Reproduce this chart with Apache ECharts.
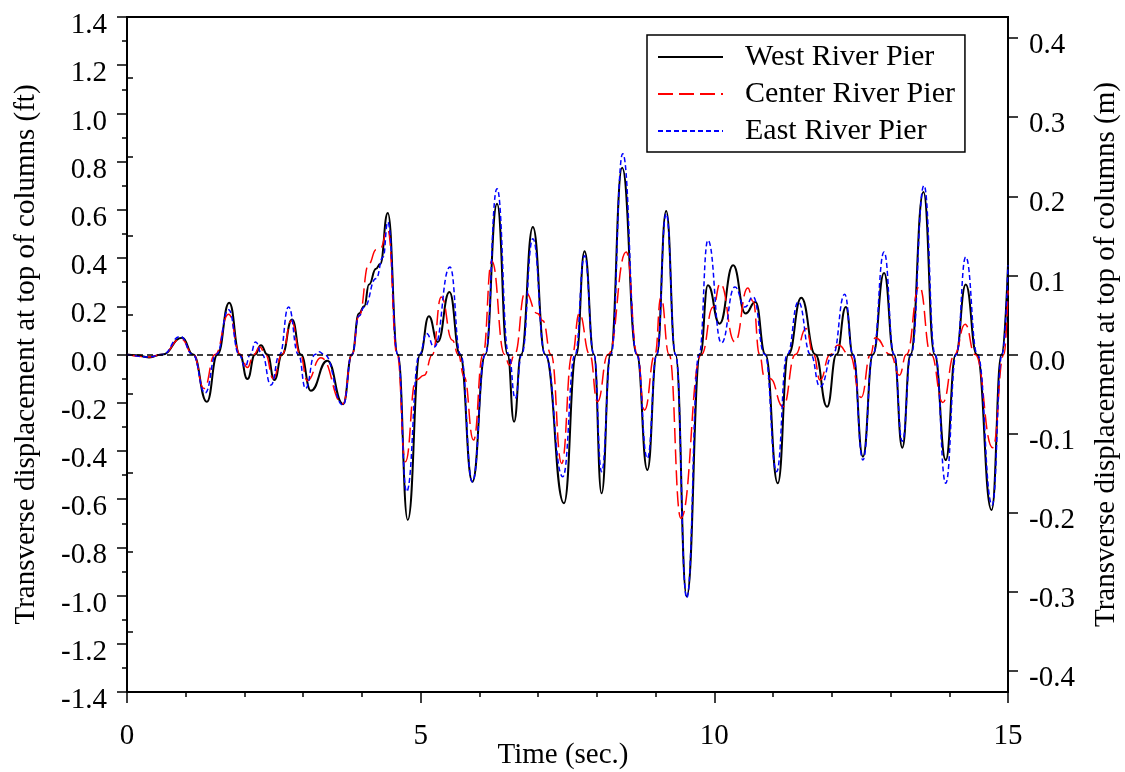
<!DOCTYPE html>
<html><head><meta charset="utf-8">
<script src="https://cdn.jsdelivr.net/npm/echarts@6/dist/echarts.min.js"></script>
<style>html,body{margin:0;padding:0;background:#fff}#c{width:1125px;height:772px}</style>
</head><body><div id="c"></div>
<script>
// Time (sec.) and displacement (ft)
const westT = [0,0.15,0.375,0.6,0.94,1.125,1.36,1.54,1.74,1.92,2.05,2.18,2.28,2.39,2.51,2.64,2.81,2.96,3.13,3.41,3.68,3.83,3.95,4.04,4.12,4.24,4.31,4.44,4.61,4.78,4.99,5.14,5.29,5.49,5.67,5.88,6.10,6.30,6.48,6.59,6.71,6.91,7.12,7.44,7.65,7.79,7.95,8.08,8.23,8.43,8.68,8.86,9.02,9.18,9.34,9.53,9.76,9.89,10.09,10.32,10.53,10.70,10.87,11.08,11.26,11.48,11.72,11.92,12.08,12.24,12.36,12.53,12.70,12.89,13.06,13.20,13.34,13.56,13.75,13.94,14.11,14.28,14.47,14.72,14.89,15.0];
const westV = [0,-0.003,-0.012,0,0.07,0,-0.196,0,0.215,0,-0.102,0,0.038,0,-0.106,0,0.145,0,-0.15,-0.026,-0.206,0,0.17,0.2,0.29,0.356,0.375,0.587,0,-0.686,0,0.159,0.052,0.259,0,-0.528,0,0.625,0,-0.279,0,0.529,0,-0.617,0,0.428,0,-0.576,0,0.775,0,-0.479,0,0.595,0,-1.004,0,0.287,0.128,0.37,0.17,0.218,0,-0.534,0,0.235,0,-0.217,0,0.197,0,-0.424,0,0.338,0,-0.387,0,0.674,0,-0.438,0,0.29,0,-0.645,0,0.37];

const centerT = [0,0.375,0.6,0.92,1.13,1.31,1.50,1.73,1.93,2.05,2.16,2.26,2.36,2.49,2.64,2.80,2.95,3.07,3.30,3.68,3.83,3.95,4.12,4.24,4.31,4.44,4.60,4.74,4.92,5.06,5.20,5.35,5.54,5.64,5.74,5.90,6.06,6.21,6.43,6.51,6.60,6.78,6.99,7.08,7.22,7.40,7.58,7.70,7.88,8.01,8.19,8.50,8.69,8.81,8.99,9.09,9.23,9.43,9.78,9.98,10.10,10.35,10.57,10.66,10.77,10.85,10.95,11.17,11.38,11.56,11.69,11.80,11.97,12.11,12.30,12.50,12.66,12.74,13.0,13.15,13.27,13.49,13.69,13.89,14.09,14.27,14.44,14.74,14.93,15.0];
const centerV = [0,-0.01,0,0.065,0,-0.141,0,0.167,0,-0.054,0,0.031,0,-0.10,0,0.14,0,-0.109,-0.013,-0.204,0,0.16,0.377,0.435,0.44,0.518,0,-0.445,-0.106,-0.086,0,0.239,0.059,0,-0.093,-0.355,0,0.388,0,-0.044,0,0.259,0.17,0.14,0,-0.452,0,0.17,0,-0.196,0,0.425,0,-0.231,0,0.239,0,-0.679,0,0.197,0.294,0.052,0.276,0.22,0,-0.09,-0.10,-0.217,0,0.108,0,-0.106,0,0.039,0,-0.178,0,0.07,0,-0.086,0,0.283,0,-0.199,0,0.126,0,-0.387,0,0.266];

const eastT = [0,0.375,0.6,0.91,1.12,1.33,1.52,1.73,1.91,2.01,2.10,2.19,2.30,2.45,2.60,2.75,2.92,3.04,3.20,3.27,3.36,3.68,3.83,3.95,4.04,4.24,4.36,4.44,4.61,4.76,4.98,5.10,5.23,5.50,5.68,5.88,6.10,6.30,6.50,6.61,6.72,6.91,7.12,7.42,7.63,7.79,7.95,8.08,8.24,8.44,8.68,8.86,9.02,9.18,9.34,9.53,9.74,9.89,10.12,10.35,10.52,10.66,10.86,11.06,11.24,11.43,11.64,11.80,12.02,12.22,12.36,12.53,12.70,12.89,13.06,13.20,13.35,13.57,13.76,13.94,14.12,14.28,14.48,14.73,14.90,15.0];
const eastV = [0,-0.01,0,0.075,0,-0.16,0,0.186,0,-0.051,0,0.052,0,-0.127,0,0.197,0,-0.141,0,0.011,0,-0.21,0,0.16,0.197,0.315,0.404,0.549,0,-0.569,0,0.087,0.031,0.363,0,-0.528,0,0.688,0,-0.182,0,0.48,0,-0.507,0,0.41,0,-0.486,0,0.833,0,-0.431,0,0.584,0,-1.01,0,0.474,0.048,0.28,0.197,0.239,0,-0.486,0,0.218,0,-0.134,0,0.25,0,-0.438,0,0.425,0,-0.36,0,0.701,0,-0.534,0,0.404,0,-0.624,0,0.37];

const seriesNames = ['West River Pier','Center River Pier','East River Pier'];
const xTicks = [0,5,10,15];
const rightMajorTicks = [-0.4,-0.3,-0.2,-0.1,0,0.1,0.2,0.3,0.4];
const rightMinorTicks = [-0.35,-0.25,-0.15,-0.05,0.05,0.15,0.25,0.35];
const FT_PER_M = 3.28084;

const FONT = "'Liberation Serif','Times New Roman',serif";
const FS = 29;
function pairs(t, v) { return t.map((x, i) => [x, v[i]]); }
function fmt1(v) { return Math.abs(v) < 1e-9 ? '0.0' : v.toFixed(1); }
const axisLine = { show: true, onZero: false, lineStyle: { color: '#000', width: 2 } };
const tickStyle = { color: '#000', width: 1.5 };
const labelStyle = { fontFamily: FONT, fontSize: FS, color: '#000' };

const chart = echarts.init(document.getElementById('c'));
chart.setOption({
  animation: false,
  backgroundColor: '#fff',
  grid: { left: 127, right: 117, top: 17, bottom: 80, show: true, borderColor: '#000', borderWidth: 2,
    backgroundColor: 'transparent', containLabel: false, outerBoundsMode: 'none' },
  legend: {
    data: seriesNames, orient: 'vertical', left: 647, top: 35,
    itemWidth: 65, itemHeight: 14, itemGap: 7, padding: [7, 10, 6, 10],
    borderColor: '#000', borderWidth: 1.5, backgroundColor: '#fff',
    itemStyle: { opacity: 0, borderWidth: 0 },
    textStyle: { fontFamily: FONT, fontSize: 30, color: '#000', lineHeight: 30, padding: [0, 0, 0, 17] }
  },
  xAxis: {
    type: 'value', min: 0, max: 15, interval: 5,
    axisLine: axisLine,
    axisTick: { show: true, length: 11, lineStyle: tickStyle, customValues: xTicks },
    minorTick: { show: true, splitNumber: 5, length: 5, lineStyle: tickStyle },
    splitLine: { show: false }, minorSplitLine: { show: false },
    axisLabel: Object.assign({ margin: 30, customValues: xTicks, formatter: v => String(v) }, labelStyle),
    name: 'Time (sec.)', nameLocation: 'middle', nameGap: 49, nameMoveOverlap: false,
    nameTextStyle: { fontFamily: FONT, fontSize: FS, color: '#000', padding: [0, 9, 0, 0] }
  },
  yAxis: [
    {
      type: 'value', min: -1.4, max: 1.4, interval: 0.2, position: 'left',
      axisLine: axisLine,
      axisTick: { show: true, length: 10, lineStyle: tickStyle },
      minorTick: { show: true, splitNumber: 2, length: 5, lineStyle: tickStyle },
      splitLine: { show: false }, minorSplitLine: { show: false },
      axisLabel: Object.assign({ margin: 20, formatter: fmt1, verticalAlign: 'top', lineHeight: 17 }, labelStyle),
      name: 'Transverse displacement at top of columns (ft)', nameLocation: 'middle', nameRotate: 90, nameGap: 86,
      nameMoveOverlap: false,
      nameTextStyle: { fontFamily: FONT, fontSize: FS, color: '#000' }
    },
    {
      type: 'value', min: -1.4 / FT_PER_M, max: 1.4 / FT_PER_M, position: 'right',
      axisLine: axisLine,
      axisTick: { show: true, length: 10, lineStyle: tickStyle, customValues: rightMajorTicks },
      splitLine: { show: false },
      axisLabel: Object.assign({ margin: 21, customValues: rightMajorTicks, formatter: fmt1, verticalAlign: 'top', lineHeight: 15 }, labelStyle),
      name: 'Transverse displacement at top of columns (m)', nameLocation: 'middle', nameRotate: 90, nameGap: 84,
      nameMoveOverlap: false,
      nameTextStyle: { fontFamily: FONT, fontSize: FS, color: '#000' }
    },
    {
      type: 'value', min: -1.4 / FT_PER_M, max: 1.4 / FT_PER_M, position: 'right',
      axisLine: { show: false },
      axisTick: { show: true, length: 6, lineStyle: tickStyle, customValues: rightMinorTicks },
      axisLabel: { show: false }, splitLine: { show: false }
    }
  ],
  series: [
    {
      name: seriesNames[0], type: 'line', data: pairs(westT, westV), smooth: 0.5, smoothMonotone: 'x',
      symbol: 'none', showSymbol: false, lineStyle: { color: '#000', width: 2 }, itemStyle: { color: '#000' },
      markLine: { silent: true, symbol: 'none', label: { show: false }, data: [{ yAxis: 0 }],
        lineStyle: { color: '#000', type: [6, 4], width: 1.5 } }
    },
    {
      name: seriesNames[1], type: 'line', data: pairs(centerT, centerV), smooth: 0.5, smoothMonotone: 'x',
      symbol: 'none', showSymbol: false, lineStyle: { color: '#ff0000', width: 1.5, type: [15, 6] }, itemStyle: { color: '#ff0000' }
    },
    {
      name: seriesNames[2], type: 'line', data: pairs(eastT, eastV), smooth: 0.5, smoothMonotone: 'x',
      symbol: 'none', showSymbol: false, lineStyle: { color: '#0000ff', width: 1.5, type: [5, 3] }, itemStyle: { color: '#0000ff' }
    }
  ]
});
</script></body></html>
